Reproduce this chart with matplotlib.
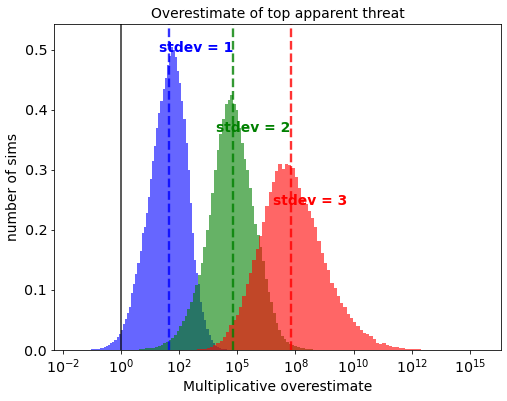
import numpy as np
import matplotlib
matplotlib.use("Agg")
import matplotlib.pyplot as plt
from matplotlib.ticker import MultipleLocator, FuncFormatter

# ---- data (log10 of multiplicative overestimate; density per decade) ----
blue_start, blue_width = -1.28, 0.09
blue_heights = [0.0015, 0.0017, 0.002, 0.0025, 0.003, 0.004, 0.0055, 0.007, 0.009, 0.012,
                0.014, 0.017, 0.021, 0.027, 0.033, 0.043, 0.052, 0.062, 0.072, 0.095,
                0.110, 0.126, 0.145, 0.165, 0.195, 0.205, 0.228, 0.255, 0.285, 0.315,
                0.340, 0.370, 0.395, 0.415, 0.435, 0.452, 0.475, 0.490, 0.505, 0.500,
                0.487, 0.465, 0.445, 0.415, 0.385, 0.345, 0.300, 0.245, 0.195, 0.150,
                0.128, 0.110, 0.080, 0.063, 0.050, 0.035, 0.025, 0.017, 0.011, 0.007,
                0.005, 0.003, 0.002, 0.0015, 0.001, 0.0007, 0.0005, 0.0003]

green_start, green_width = 0.78, 0.115
green_heights = [0.001, 0.002, 0.003, 0.003, 0.004, 0.004, 0.005, 0.007, 0.008, 0.011,
                 0.013, 0.016, 0.020, 0.025, 0.032, 0.040, 0.048, 0.057, 0.068, 0.080,
                 0.095, 0.108, 0.125, 0.145, 0.172, 0.200, 0.225, 0.262, 0.300, 0.333,
                 0.360, 0.385, 0.410, 0.416, 0.424, 0.410, 0.400, 0.370, 0.345, 0.318,
                 0.300, 0.270, 0.240, 0.210, 0.192, 0.172, 0.148, 0.118, 0.097, 0.080,
                 0.062, 0.045, 0.034, 0.024, 0.018, 0.013, 0.010, 0.008, 0.006, 0.005,
                 0.004, 0.003, 0.002, 0.0015, 0.001, 0.0005]

red_start, red_width = 3.26, 0.14
red_heights = [0.001, 0.002, 0.002, 0.003, 0.005, 0.008, 0.012, 0.015, 0.021, 0.030,
               0.042, 0.050, 0.058, 0.072, 0.090, 0.110, 0.128, 0.150, 0.168, 0.190,
               0.213, 0.240, 0.263, 0.280, 0.298, 0.310, 0.302, 0.310, 0.308, 0.303,
               0.288, 0.270, 0.252, 0.243, 0.231, 0.220, 0.205, 0.182, 0.162, 0.145,
               0.133, 0.112, 0.104, 0.090, 0.079, 0.072, 0.060, 0.054, 0.046, 0.040,
               0.033, 0.028, 0.026, 0.023, 0.018, 0.012, 0.010, 0.012, 0.008, 0.007,
               0.0055, 0.005, 0.004, 0.003, 0.002, 0.002, 0.002, 0.0015, 0.001, 0.0005,
               0.0003]

medians = [2.04, 4.80, 7.29]          # dashed lines (log10)
labels = ["stdev = 1", "stdev = 2", "stdev = 3"]
label_x = [1.64, 4.07, 6.54]
label_y = [0.503, 0.370, 0.248]
colors = ["b", "g", "r"]

s = 0.72  # geometry scale (reference drawn at 72 dpi)
plt.rcParams.update({
    "font.size": 10,
    "axes.linewidth": 0.8 * s,
    "xtick.major.size": 3.5 * s, "ytick.major.size": 3.5 * s,
    "xtick.major.width": 0.8 * s, "ytick.major.width": 0.8 * s,
    "xtick.major.pad": 3.5 * s, "ytick.major.pad": 3.5 * s,
    "xtick.labelsize": 10.3, "ytick.labelsize": 10.3,
    "axes.labelpad": 4.0 * s, "axes.titlepad": 6.0 * s,
})
fig = plt.figure(figsize=(5.07, 4.01), dpi=100)
ax = fig.add_axes([0.107, 0.127, 0.881, 0.813])

series = [(blue_start, blue_width, blue_heights),
          (green_start, green_width, green_heights),
          (red_start, red_width, red_heights)]
for (start, width, h), c in zip(series, colors):
    h = np.asarray(h)
    edges = start + width * np.arange(len(h) + 1)
    ax.stairs(h, edges, fill=True, color=c, alpha=0.6, linewidth=0)

ax.axvline(0, color="k", alpha=0.7, lw=1.3)
for m, c in zip(medians, colors):
    ax.axvline(m, color=c, ls="--", lw=1.7, alpha=0.8)
for lx, ly, t, c in zip(label_x, label_y, labels, colors):
    ax.text(lx, ly, t, color=c, fontweight="bold", ha="left", va="center", fontsize=10)

ax.set_xlim(-2.88, 16.34)
ax.set_ylim(0, 0.5424)
ax.xaxis.set_major_locator(MultipleLocator(2.5))
ax.xaxis.set_major_formatter(FuncFormatter(lambda x, pos: "$10^{%.0f}$" % x))
ax.set_title("Overestimate of top apparent threat", fontsize=10)
ax.set_xlabel("Multiplicative overestimate", fontsize=10)
ax.set_ylabel("number of sims", fontsize=10)

fig.savefig("out.png", dpi=100)
